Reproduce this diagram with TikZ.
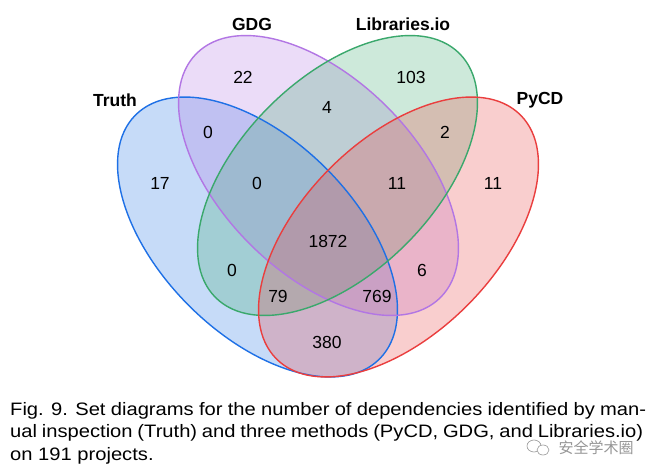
\documentclass[tikz,border=0pt]{standalone}
\usepackage{fontspec}
\setmainfont{Liberation Sans}
\newfontfamily\capfont[FakeStretch=1.12]{Liberation Sans}
\newfontfamily\cjk{Noto Sans CJK SC}
\definecolor{truthc}{RGB}{30,112,230}
\definecolor{gdgc}{RGB}{178,118,228}
\definecolor{libc}{RGB}{58,168,108}
\definecolor{pycdc}{RGB}{234,62,62}
\definecolor{wmark}{RGB}{150,150,150}
\begin{document}
\begin{tikzpicture}[x=1pt,y=1pt,
  setfill/.style={fill=#1, fill opacity=0.25, draw=none},
  setline/.style={draw=#1, line width=1.4pt},
  num/.style={inner sep=0pt, font=\fontsize{17.5}{21}\selectfont},
  setlabel/.style={inner sep=0pt, font=\fontsize{17.5}{21}\selectfont\bfseries},
  capline/.style={anchor=base west, inner sep=0pt, font=\capfont\fontsize{18}{22}\selectfont}]
\useasboundingbox (0,0) rectangle (657,-476);
\fill[white] (0,0) rectangle (657,-476);
% fills
\path[setfill=truthc] (257.5,-237) ellipse [x radius=172.5, y radius=97, rotate=-45];
\path[setfill=gdgc]   (318.5,-175.5) ellipse [x radius=172.5, y radius=97, rotate=-45];
\path[setfill=libc]   (337.5,-175.5) ellipse [x radius=172.5, y radius=97, rotate=45];
\path[setfill=pycdc]  (398.5,-237) ellipse [x radius=172.5, y radius=97, rotate=45];
% outlines
\draw[setline=truthc] (257.5,-237) ellipse [x radius=172.5, y radius=97, rotate=-45];
\draw[setline=gdgc]   (318.5,-175.5) ellipse [x radius=172.5, y radius=97, rotate=-45];
\draw[setline=libc]   (337.5,-175.5) ellipse [x radius=172.5, y radius=97, rotate=45];
\draw[setline=pycdc]  (398.5,-237) ellipse [x radius=172.5, y radius=97, rotate=45];
% set labels
\node[setlabel] (ltruth) at (115,-100) {Truth};
\node[setlabel] (lgdg) at (252,-24.5) {GDG};
\node[setlabel] (llib) at (403,-24.5) {Libraries.io};
\node[setlabel] (lpycd) at (540,-100) {PyCD};
% region counts
\node[num] (n22) at (243,-77) {22};
\node[num] (n4) at (327,-107) {4};
\node[num] (n103) at (411,-77) {103};
\node[num] (n0a) at (208,-132) {0};
\node[num] (n2) at (445,-132) {2};
\node[num] (n17) at (160,-183) {17};
\node[num] (n0b) at (257,-183) {0};
\node[num] (n11a) at (397,-183) {11};
\node[num] (n11b) at (493,-183) {11};
\node[num] (n1872) at (328,-241) {1872};
\node[num] (n0c) at (232,-270) {0};
\node[num] (n6) at (422,-270) {6};
\node[num] (n79) at (278,-296) {79};
\node[num] (n769) at (377,-296) {769};
\node[num] (n380) at (327,-342) {380};
% caption
\node[capline] (cap1) at (10,-415) {\makebox[636pt][s]{Fig. 9. Set diagrams for the number of dependencies identified by man-}};
\node[capline] (cap2) at (10,-437.5) {\makebox[633pt][s]{ual inspection (Truth) and three methods (PyCD, GDG, and Libraries.io)}};
\node[capline] (cap3) at (10,-460) {on 191 projects.};
% watermark
\draw[wmark, line width=0.6pt] (534,-446) ellipse [x radius=7, y radius=6];
\draw[wmark, line width=0.6pt, fill=white] (543,-450) ellipse [x radius=6, y radius=5];
\node[inner sep=0pt, text=wmark, font=\cjk\fontsize{15}{17}\selectfont] (wm) at (596,-448) {安全学术圈};
\end{tikzpicture}
\end{document}
